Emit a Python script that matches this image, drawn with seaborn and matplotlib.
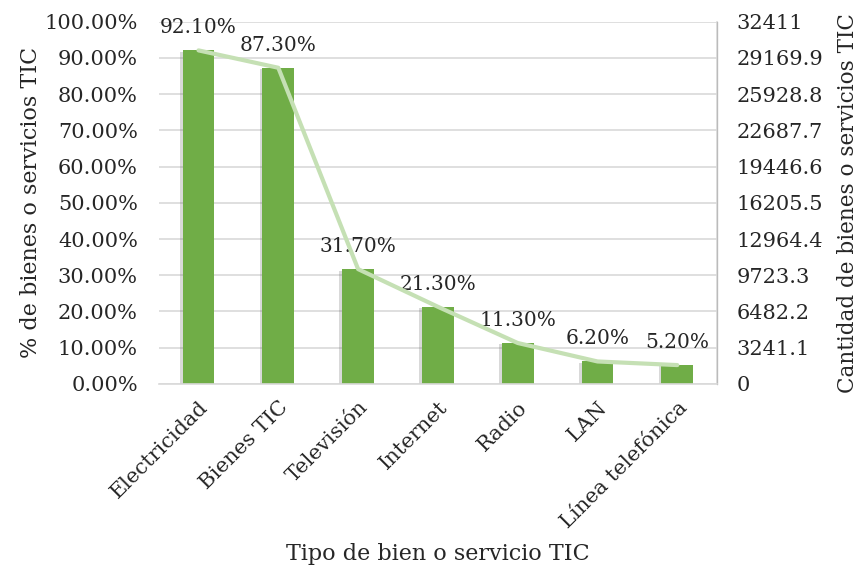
import matplotlib
matplotlib.use("Agg")
import matplotlib.pyplot as plt
import matplotlib.patheffects as pe
import seaborn as sns

categorias = ["Electricidad", "Bienes TIC", "Televisión", "Internet", "Radio", "LAN", "Línea telefónica"]
porcentajes = [92.1, 87.3, 31.7, 21.3, 11.3, 6.2, 5.2]
cantidades = [29850, 28295, 10274, 6904, 3662, 2009, 1685]
ticks_izq = [0, 10, 20, 30, 40, 50, 60, 70, 80, 90, 100]
ticks_der = [0, 3241.1, 6482.2, 9723.3, 12964.4, 16205.5, 19446.6, 22687.7, 25928.8, 29169.9, 32411]
etiquetas_der = ["0", "3241.1", "6482.2", "9723.3", "12964.4", "16205.5", "19446.6",
                 "22687.7", "25928.8", "29169.9", "32411"]

sns.set_style("white")
plt.rcParams["font.family"] = ["DejaVu Serif"]
plt.rcParams["font.size"] = 15

fig, ax = plt.subplots(figsize=(8.62, 5.73), dpi=100)
fig.subplots_adjust(left=0.184, right=0.832, top=0.962, bottom=0.33)

sns.barplot(x=categorias, y=porcentajes, color="#70AD47", saturation=1, width=0.4,
            linewidth=0, ax=ax)
for p in ax.patches:
    p.set_path_effects([pe.SimplePatchShadow(offset=(-2, -1), alpha=0.22, shadow_rgbFace="#555555"),
                        pe.Normal()])

for i, v in enumerate(porcentajes):
    ax.annotate(f"{v:.2f}%", (i, v), xytext=(0, 13), textcoords="offset pixels",
                ha="center", va="bottom", fontsize=14.5)

ax.set_ylim(0, 100)
ax.set_yticks(ticks_izq)
ax.set_yticklabels([f"{t:.2f}%" for t in ticks_izq])
ax.grid(axis="y", color="#D9D9D9", linewidth=1.2)
ax.set_axisbelow(True)
ax.tick_params(axis="y", length=0, pad=15, labelsize=15)
ax.tick_params(axis="x", length=0, pad=10, labelsize=15)
ax.set_xlim(-0.5, 6.5)
plt.setp(ax.get_xticklabels(), rotation=45, ha="right", rotation_mode="anchor")
ax.set_xlabel("Tipo de bien o servicio TIC", fontsize=16, labelpad=8)
ax.set_ylabel("% de bienes o servicios TIC", fontsize=16, labelpad=2)
for s in ["top", "left"]:
    ax.spines[s].set_visible(False)
ax.spines["bottom"].set_color("#D9D9D9")
ax.spines["bottom"].set_linewidth(1.2)

ax2 = ax.twinx()
sns.lineplot(x=list(range(len(categorias))), y=cantidades, color="#C5E0B4", linewidth=3, ax=ax2)
ax2.set_ylim(0, 32411)
ax2.set_yticks(ticks_der)
ax2.set_yticklabels(etiquetas_der)
ax2.tick_params(axis="y", length=0, pad=14, labelsize=15)
ax2.set_ylabel("Cantidad de bienes o servicios TIC", fontsize=15.5, labelpad=10)
for s in ["top", "left", "bottom"]:
    ax2.spines[s].set_visible(False)
ax2.spines["right"].set_color("#D9D9D9")
ax2.spines["right"].set_linewidth(1.2)
ax2.grid(False)

fig.savefig("out.png", dpi=100)
